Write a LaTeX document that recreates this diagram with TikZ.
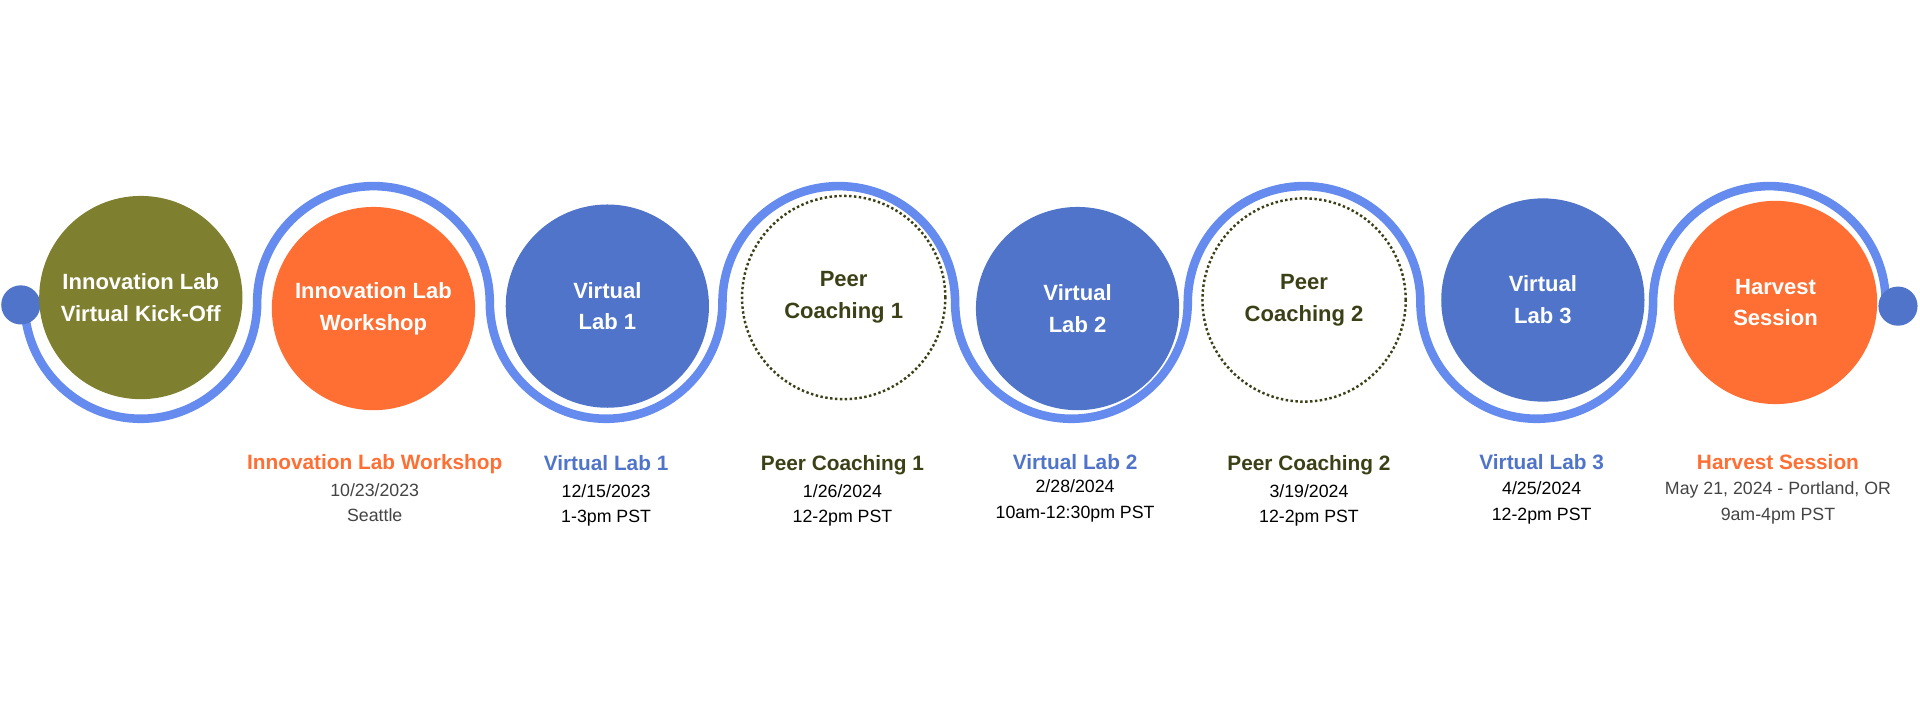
\documentclass[tikz,border=0pt]{standalone}
\usepackage{fontspec}
\setmainfont{Liberation Sans}
\usetikzlibrary{positioning}
\definecolor{olive1}{HTML}{7F7F30}
\definecolor{orng}{HTML}{FF6F33}
\definecolor{blu}{HTML}{4F74C9}
\definecolor{trk}{HTML}{658BEE}
\definecolor{dko}{HTML}{3B4016}
\definecolor{gry}{HTML}{444444}
\begin{document}
\begin{tikzpicture}[x=1pt,y=-1pt,
  disk/.style={circle,minimum size=166pt,inner sep=0pt,align=center,font=\bfseries\fontsize{18}{26}\selectfont},
  ttl/.style={font=\bfseries\fontsize{17}{20}\selectfont,text height=13pt,text depth=4pt},
  sub/.style={align=center,font=\fontsize{14.5}{21}\selectfont}]
\useasboundingbox (0,0) rectangle (1568,572);
% track
\draw[trk,line width=7pt] (20,247)
  arc[start angle=180,end angle=0,radius=95]
  arc[start angle=180,end angle=360,radius=95]
  arc[start angle=180,end angle=0,radius=95]
  arc[start angle=180,end angle=360,radius=95]
  arc[start angle=180,end angle=0,radius=95]
  arc[start angle=180,end angle=360,radius=95]
  arc[start angle=180,end angle=0,radius=95]
  arc[start angle=180,end angle=360,radius=95] coordinate (tend);
\node[circle,fill=blu,minimum size=32pt,inner sep=0pt] (ld) at (17,249) {};
\node[circle,fill=blu,minimum size=32pt,inner sep=0pt] (rd) at (1550,250) {};
\node[disk,fill=olive1,text=white] (c1) at (115,243) {Innovation Lab\\Virtual Kick-Off};
\node[disk,fill=orng,text=white] (c2) at (305,252) {Innovation Lab\\Workshop};
\node[disk,fill=blu,text=white] (c3) at (496,250) {Virtual\\Lab 1};
\node[disk,draw=dko,dotted,line width=2pt,fill=white,text=dko] (c4) at (689,243) {Peer\\Coaching 1};
\node[disk,fill=blu,text=white] (c5) at (880,252) {Virtual\\Lab 2};
\node[disk,draw=dko,dotted,line width=2pt,fill=white,text=dko] (c6) at (1065,245) {Peer\\Coaching 2};
\node[disk,fill=blu,text=white] (c7) at (1260,245) {Virtual\\Lab 3};
\node[disk,fill=orng,text=white] (c8) at (1450,247) {Harvest\\Session};
% labels
\node[ttl,text=orng] (t2) at (306,379) {Innovation Lab Workshop};
\node[sub,text=gry,below=0pt of t2] (s2) {10/23/2023\\Seattle};
\node[ttl,text=blu] (t3) at (495,380) {Virtual Lab 1};
\node[sub,below=0pt of t3] (s3) {12/15/2023\\1-3pm PST};
\node[ttl,text=dko] (t4) at (688,380) {Peer Coaching 1};
\node[sub,below=0pt of t4] (s4) {1/26/2024\\12-2pm PST};
\node[ttl,text=blu] (t5) at (878,379) {Virtual Lab 2};
\node[sub,below=-3pt of t5] (s5) {2/28/2024\\10am-12:30pm PST};
\node[ttl,text=dko] (t6) at (1069,380) {Peer Coaching 2};
\node[sub,below=0pt of t6] (s6) {3/19/2024\\12-2pm PST};
\node[ttl,text=blu] (t7) at (1259,379) {Virtual Lab 3};
\node[sub,below=-1pt of t7] (s7) {4/25/2024\\12-2pm PST};
\node[ttl,text=orng] (t8) at (1452,379) {Harvest Session};
\node[sub,text=gry,below=-1pt of t8] (s8) {May 21, 2024 - Portland, OR\\9am-4pm PST};
\end{tikzpicture}
\end{document}
